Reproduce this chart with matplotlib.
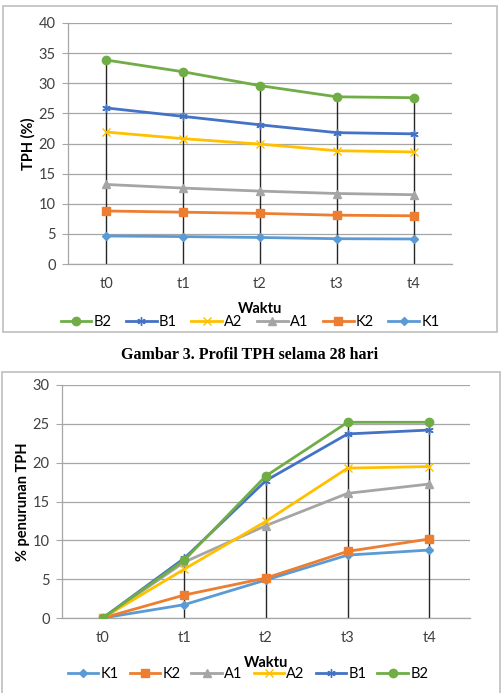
import matplotlib
matplotlib.use("Agg")
import matplotlib.pyplot as plt
from matplotlib.patches import Rectangle
import numpy as np

plt.rcParams['font.family'] = ['Lato', 'DejaVu Sans']

times = ["t0", "t1", "t2", "t3", "t4"]

# Chart 1: TPH (%)
tph_B2 = [33.85, 31.9, 29.6, 27.75, 27.6]
tph_B1 = [25.9, 24.5, 23.1, 21.8, 21.6]
tph_A2 = [21.9, 20.8, 19.9, 18.8, 18.6]
tph_A1 = [13.2, 12.6, 12.1, 11.7, 11.5]
tph_K2 = [8.8, 8.6, 8.4, 8.1, 8.0]
tph_K1 = [4.65, 4.55, 4.4, 4.2, 4.15]

# Chart 2: % penurunan TPH
pen_K1 = [0, 1.72, 4.9, 8.1, 8.75]
pen_K2 = [0, 2.96, 5.15, 8.58, 10.17]
pen_A1 = [0, 7.2, 11.9, 16.05, 17.25]
pen_A2 = [0, 6.3, 12.45, 19.3, 19.5]
pen_B1 = [0, 7.7, 17.7, 23.7, 24.2]
pen_B2 = [0, 7.47, 18.3, 25.2, 25.2]

colors = {"K1": "#5B9BD5", "K2": "#ED7D31", "A1": "#A5A5A5",
          "A2": "#FFC000", "B1": "#4472C4", "B2": "#70AD47"}
markers = {"K1": "D", "K2": "s", "A1": "^", "A2": "x", "B1": (6, 2, 0), "B2": "o"}
msizes = {"K1": 4, "K2": 6, "A1": 6, "A2": 6, "B1": 6, "B2": 6}

W, H = 503, 693
fig = plt.figure(figsize=(W / 100, H / 100), dpi=100)


def axes_px(l, t, r, b):
    return fig.add_axes([l / W, 1 - b / H, (r - l) / W, (b - t) / H])


def style(ax, ymax, ylabel):
    ax.set_xlim(-0.5, 4.5)
    ax.set_ylim(0, ymax)
    ax.set_yticks(np.arange(0, ymax + 1, 5))
    ax.set_xticks(range(5))
    ax.set_xticklabels(times)
    ax.grid(axis='y', color='#A6A6A6', lw=0.9)
    ax.set_axisbelow(True)
    for s in ['top', 'right']:
        ax.spines[s].set_visible(False)
    for s in ['left', 'bottom']:
        ax.spines[s].set_color('#A6A6A6')
        ax.spines[s].set_linewidth(0.9)
    ax.tick_params(axis='x', length=0, labelsize=10.5, pad=9, colors='#404040')
    ax.tick_params(axis='y', length=4, color='#A6A6A6', labelsize=10.5, pad=5,
                   colors='#404040')
    ax.set_ylabel(ylabel, fontsize=10.5, fontweight='bold', labelpad=2)
    ax.set_xlabel("Waktu", fontsize=10.5, fontweight='bold', labelpad=8)


def draw(ax, series, order):
    x = np.arange(5)
    tops = np.max(np.array([series[k] for k in order]), axis=0)
    ax.vlines(x, 0, tops, color='#262626', lw=1.0, zorder=2)
    for k in order:
        ax.plot(x, series[k], color=colors[k], lw=2.0, marker=markers[k],
                ms=msizes[k], mew=1.0, label=k, zorder=3)


def legend(ax, xcen, ycen, colsp):
    ax.legend(loc='center', bbox_to_anchor=(xcen / W, 1 - ycen / H),
              bbox_transform=fig.transFigure, ncol=6, frameon=False,
              fontsize=10.5, handlelength=2.1, columnspacing=colsp,
              handletextpad=0.15, borderpad=0)


# frames
fig.patches.append(Rectangle((3 / W, 1 - 332 / H), 494 / W, 326 / H,
                             transform=fig.transFigure, fill=False,
                             ec='#BFBFBF', lw=1.2))
fig.patches.append(Rectangle((1.5 / W, 1 - 700 / H), 498.5 / W, 328 / H,
                             transform=fig.transFigure, fill=False,
                             ec='#BFBFBF', lw=1.2))

# top chart
ax1 = axes_px(68, 23, 452, 264)
s1 = {"B2": tph_B2, "B1": tph_B1, "A2": tph_A2, "A1": tph_A1,
      "K2": tph_K2, "K1": tph_K1}
order1 = ["B2", "B1", "A2", "A1", "K2", "K1"]
draw(ax1, s1, order1)
style(ax1, 40, "TPH (%)")
legend(ax1, 250, 322, 1.0)

fig.text(250 / W, 1 - 355 / H, "Gambar 3. Profil TPH selama 28 hari",
         ha='center', va='center', fontsize=11.5, fontweight='bold',
         family='Liberation Serif')

# bottom chart
ax2 = axes_px(62, 385, 470, 618)
s2 = {"K1": pen_K1, "K2": pen_K2, "A1": pen_A1, "A2": pen_A2,
      "B1": pen_B1, "B2": pen_B2}
order2 = ["K1", "K2", "A1", "A2", "B1", "B2"]
draw(ax2, s2, order2)
style(ax2, 30, "% penurunan TPH")
legend(ax2, 248, 674, 0.75)

fig.savefig("out.png", dpi=100)
